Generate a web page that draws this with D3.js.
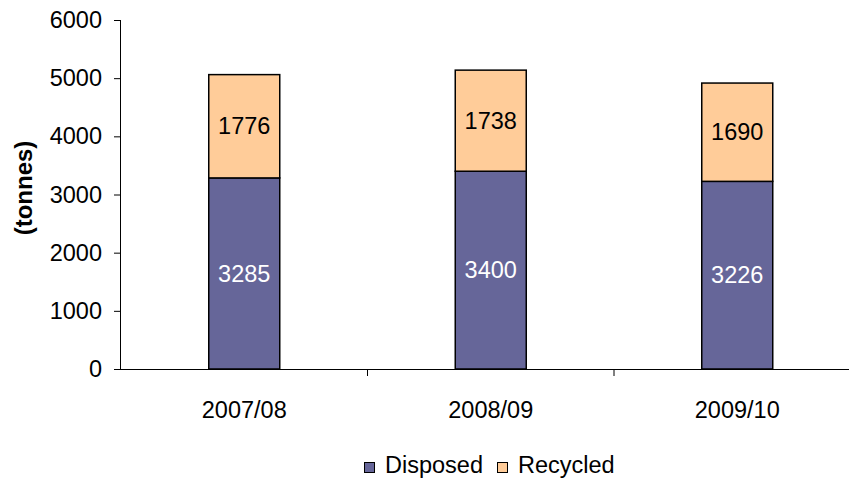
<!DOCTYPE html>
<html><head><meta charset="utf-8">
<script src="https://cdn.jsdelivr.net/npm/d3@7"></script>
<style>body{margin:0;background:#fff}svg{display:block}text{font-family:"Liberation Sans",Arial,sans-serif}</style>
</head><body>
<svg id="c" width="849" height="479"></svg>
<script>
const categories = ["2007/08", "2008/09", "2009/10"];
const disposed = [3285, 3400, 3226];
const recycled = [1776, 1738, 1690];
const seriesNames = ["Disposed", "Recycled"];
const seriesColors = ["#666699", "#FFCC99"];
const yTicks = [0, 1000, 2000, 3000, 4000, 5000, 6000];

const FS = 23.5;
const svg = d3.select("#c");
const plotLeft = 121, bandW = 246.5, plotTop = 20, plotBottom = 369;
const x = d3.scaleBand().domain(categories).range([plotLeft, plotLeft + bandW * 3]).paddingInner(0).paddingOuter(0);
const y = d3.scaleLinear().domain([0, 6000]).range([plotBottom, plotTop]);
const barW = 71;

// y axis
const ya = svg.append("g").attr("transform", `translate(${plotLeft},0)`)
  .call(d3.axisLeft(y).tickValues(yTicks).tickSize(7).tickPadding(12).tickFormat(d3.format("d")));
ya.select(".domain").attr("d", `M-0.5,${plotTop}V${plotBottom}`).attr("stroke", "#000");
ya.selectAll(".tick line").attr("stroke", "#000");
ya.selectAll("text").attr("font-size", FS).attr("fill", "#000").attr("font-family", "Liberation Sans, Arial, sans-serif");

// x axis
const xa = svg.append("g").attr("transform", `translate(0,${plotBottom})`);
xa.append("line").attr("x1", plotLeft).attr("x2", 849).attr("y1", 0.5).attr("y2", 0.5).attr("stroke", "#000");
const bounds = [1, 2].map(i => plotLeft + bandW * i);
xa.selectAll("line.t").data(bounds).enter().append("line").attr("class", "t")
  .attr("x1", d => d).attr("x2", d => d).attr("y1", 0).attr("y2", 7).attr("stroke", "#000");
xa.selectAll("text").data(categories).enter().append("text")
  .attr("x", d => x(d) + x.bandwidth() / 2).attr("y", 49)
  .attr("text-anchor", "middle").attr("font-size", FS).attr("fill", "#000").text(d => d);

// stacked data
const rows = categories.map((c, i) => ({cat: c, Disposed: disposed[i], Recycled: recycled[i]}));
const stack = d3.stack().keys(seriesNames)(rows);

const g = svg.append("g");
stack.forEach((s, si) => {
  g.selectAll(null).data(s).enter().append("rect")
    .attr("x", d => x(d.data.cat) + x.bandwidth() / 2 - barW / 2)
    .attr("width", barW)
    .attr("y", d => y(d[1]))
    .attr("height", d => y(d[0]) - y(d[1]))
    .attr("fill", seriesColors[si]).attr("stroke", "#000").attr("stroke-width", 1.5);
  g.selectAll(null).data(s).enter().append("text")
    .attr("x", d => x(d.data.cat) + x.bandwidth() / 2)
    .attr("y", d => (y(d[0]) + y(d[1])) / 2)
    .attr("dy", "0.35em").attr("text-anchor", "middle").attr("font-size", FS)
    .attr("fill", si === 0 ? "#fff" : "#000")
    .text(d => d[1] - d[0]);
});

// y label
svg.append("text").attr("transform", "translate(24,188) rotate(-90)")
  .attr("text-anchor", "middle").attr("dy", "0.35em").attr("font-size", 24).attr("font-weight", "bold").text("(tonnes)");

// legend
const leg = svg.append("g");
const legX = [364, 497];
seriesNames.forEach((n, i) => {
  leg.append("rect").attr("x", legX[i] + 0.5).attr("y", 462.5).attr("width", 10).attr("height", 10)
    .attr("fill", seriesColors[i]).attr("stroke", "#000").attr("stroke-width", 1);
  leg.append("text").attr("x", legX[i] + 21).attr("y", 465).attr("dy", "0.35em")
    .attr("font-size", FS).attr("fill", "#000").text(n);
});
</script>
</body></html>
